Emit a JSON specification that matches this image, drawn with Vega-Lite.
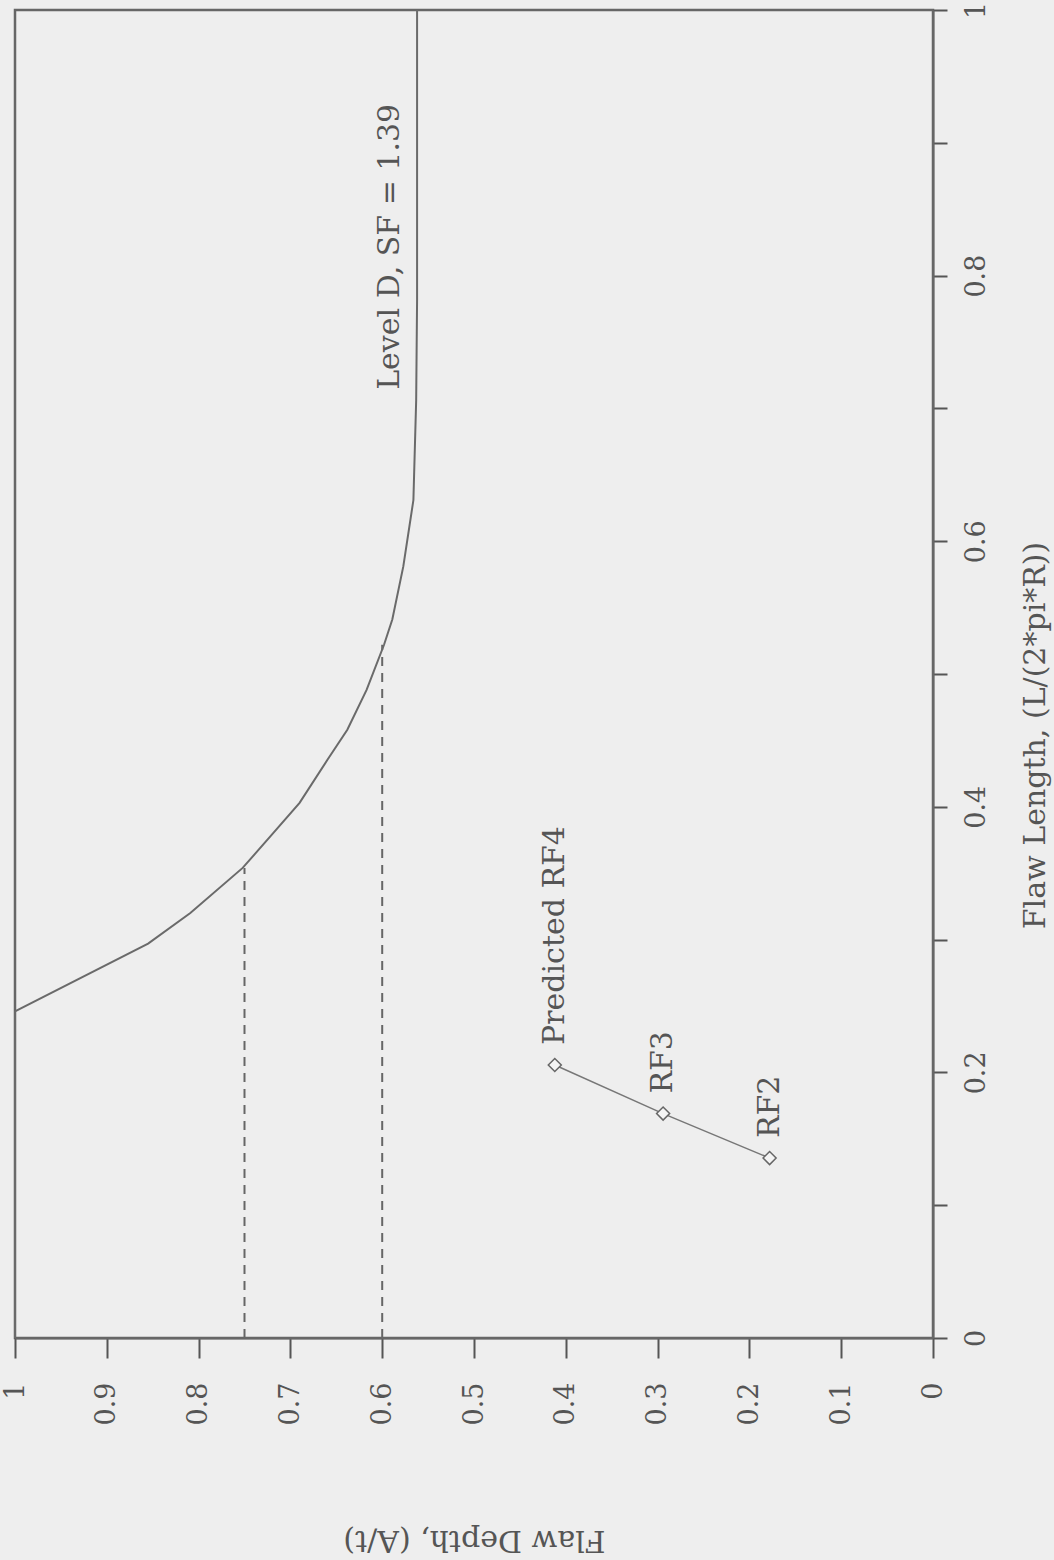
{
  "$schema": "https://vega.github.io/schema/vega-lite/v6.json",
  "width": 918,
  "height": 1328,
  "autosize": {"type": "none"},
  "padding": {"left": 15, "top": 10, "right": 121, "bottom": 222},
  "background": "#eeeeee",
  "config": {
    "view": {"stroke": "#666666", "strokeWidth": 2.5, "fill": "#eeeeee"},
    "font": "DejaVu Serif"
  },
  "datasets": {
    "curve": [
      {"d": 1.0, "L": 0.0},
      {"d": 1.0, "L": 0.246},
      {"d": 0.855, "L": 0.297},
      {"d": 0.809, "L": 0.32},
      {"d": 0.752, "L": 0.354},
      {"d": 0.719, "L": 0.38},
      {"d": 0.69, "L": 0.403},
      {"d": 0.66, "L": 0.435},
      {"d": 0.638, "L": 0.458},
      {"d": 0.617, "L": 0.488},
      {"d": 0.598, "L": 0.522},
      {"d": 0.589, "L": 0.541},
      {"d": 0.577, "L": 0.581},
      {"d": 0.566, "L": 0.631},
      {"d": 0.563, "L": 0.706},
      {"d": 0.562, "L": 0.782},
      {"d": 0.562, "L": 1.0}
    ],
    "dashed": [
      {"d": 0.75, "L0": 0, "L1": 0.354},
      {"d": 0.6, "L0": 0, "L1": 0.522}
    ],
    "points": [
      {"d": 0.412, "L": 0.2056, "label": "Predicted RF4"},
      {"d": 0.294, "L": 0.169, "label": "RF3"},
      {"d": 0.178, "L": 0.1355, "label": "RF2"}
    ],
    "note": [
      {"d": 0.5915, "L": 0.714, "label": "Level D, SF = 1.39"}
    ]
  },
  "encoding": {
    "x": {
      "field": "d",
      "type": "quantitative",
      "scale": {"domain": [0, 1], "reverse": true, "nice": false},
      "axis": {
        "orient": "bottom",
        "values": [0, 0.1, 0.2, 0.3, 0.4, 0.5, 0.6, 0.7, 0.8, 0.9, 1],
        "format": "~g",
        "grid": false,
        "domainColor": "#666666",
        "domainWidth": 2,
        "tickColor": "#555555",
        "tickWidth": 2,
        "tickSize": 20,
        "labelAngle": 270,
        "labelAlign": "right",
        "labelBaseline": "middle",
        "labelPadding": 24,
        "labelFont": "DejaVu Serif",
        "labelFontSize": 27,
        "labelColor": "#555555",
        "title": "Flaw Depth, (A/t)",
        "titleAngle": 180,
        "titleFont": "DejaVu Serif",
        "titleFontSize": 30,
        "titleFontWeight": "normal",
        "titleColor": "#555555",
        "titleBaseline": "middle",
        "titleAlign": "center",
        "titleY": 201
      }
    },
    "y": {
      "field": "L",
      "type": "quantitative",
      "scale": {"domain": [0, 1], "nice": false},
      "axis": {
        "orient": "right",
        "values": [0, 0.1, 0.2, 0.3, 0.4, 0.5, 0.6, 0.7, 0.8, 0.9, 1],
        "labelExpr": "round(datum.value * 10) % 2 == 0 ? format(datum.value, '~g') : ''",
        "grid": false,
        "domainColor": "#666666",
        "domainWidth": 2,
        "tickColor": "#555555",
        "tickWidth": 2,
        "tickSize": 14,
        "labelAngle": 270,
        "labelAlign": "center",
        "labelBaseline": "top",
        "labelPadding": 16,
        "labelFont": "DejaVu Serif",
        "labelFontSize": 27,
        "labelColor": "#555555",
        "title": "Flaw Length, (L/(2*pi*R))",
        "titleAngle": 270,
        "titleFont": "DejaVu Serif",
        "titleFontSize": 30,
        "titleFontWeight": "normal",
        "titleColor": "#555555",
        "titleBaseline": "middle",
        "titleAlign": "center",
        "titleX": 102,
        "titleY": 725
      }
    }
  },
  "layer": [
    {
      "data": {"name": "dashed"},
      "mark": {"type": "rule", "color": "#666666", "strokeWidth": 2, "strokeDash": [9, 7]},
      "encoding": {
        "y": {"field": "L0", "type": "quantitative"},
        "y2": {"field": "L1"}
      }
    },
    {
      "data": {"name": "curve"},
      "mark": {"type": "line", "color": "#6a6a6a", "strokeWidth": 2},
      "encoding": {"order": {"field": "L", "type": "quantitative"}}
    },
    {
      "data": {"name": "points"},
      "mark": {
        "type": "line",
        "color": "#777777",
        "strokeWidth": 1.5,
        "point": {"shape": "diamond", "filled": false, "size": 170, "stroke": "#666666", "strokeWidth": 1.5, "fill": "#f4f4f4"}
      },
      "encoding": {"order": {"field": "L", "type": "quantitative"}}
    },
    {
      "data": {"name": "points"},
      "mark": {"type": "text", "angle": 270, "align": "left", "baseline": "middle", "dx": 20, "font": "DejaVu Serif", "fontSize": 30, "color": "#555555"},
      "encoding": {"text": {"field": "label"}}
    },
    {
      "data": {"name": "note"},
      "mark": {"type": "text", "angle": 270, "align": "left", "baseline": "middle", "font": "DejaVu Serif", "fontSize": 30, "color": "#555555"},
      "encoding": {"text": {"field": "label"}}
    }
  ]
}
